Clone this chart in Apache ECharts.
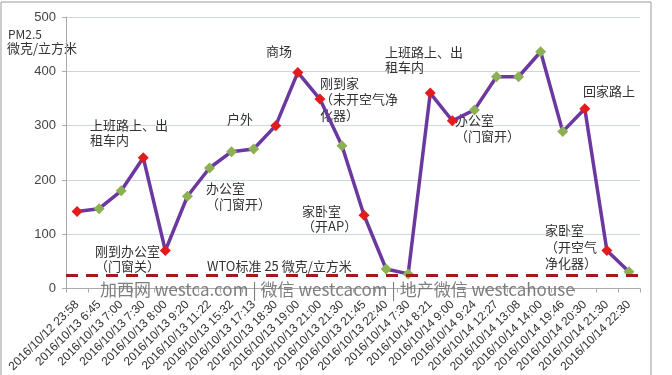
<!DOCTYPE html>
<html><head><meta charset="utf-8">
<script src="https://cdn.jsdelivr.net/npm/echarts@6/dist/echarts.min.js"></script>
<style>html,body{margin:0;padding:0;background:#fff}#c{width:672px;height:375px}</style>
</head><body><div id="c"></div>
<script>
var categories = ["2016/10/12 23:58","2016/10/13 6:45","2016/10/13 7:00","2016/10/13 7:30","2016/10/13 8:00","2016/10/13 9:20","2016/10/13 11:22","2016/10/13 15:32","2016/10/13 17:13","2016/10/13 18:30","2016/10/13 19:00","2016/10/13 21:00","2016/10/13 21:30","2016/10/13 21:45","2016/10/13 22:40","2016/10/14 7:30","2016/10/14 8:21","2016/10/14 9:00","2016/10/14 9:24","2016/10/14 12:27","2016/10/14 13:08","2016/10/14 14:00","2016/10/14 19:46","2016/10/14 20:30","2016/10/14 21:30","2016/10/14 22:30"];
var pm25 = [142,147,180,241,70,170,222,252,257,300,398,349,263,135,36,27,360,309,329,390,390,436,289,331,70,31];
var pointKind = ["r","g","g","r","r","g","g","g","g","r","r","r","g","r","g","g","r","r","g","g","g","g","g","r","r","g"];
var wtoStandard = 25;
var yTicks = [0,100,200,300,400,500];

var kindColor = {r:"#E41A1C", g:"#8BB153"};
var FONT = "'Noto Sans CJK SC', sans-serif";
var chart = echarts.init(document.getElementById('c'));

function txt(x, y, s, lh, extra){
  var o = {type:'text', left:x, top:y, z:1, style:{text:s, font:'13px '+FONT, fill:'#333', lineHeight:lh||15}};
  if (extra) for (var k in extra) o.style[k]=extra[k];
  return o;
}

chart.setOption({
  animation:false,
  backgroundColor:'#fff',
  grid:{left:66, right:32, top:17, bottom:86},
  xAxis:{type:'category', data:categories, boundaryGap:true,
    axisLine:{lineStyle:{color:'#aaa'}},
    axisTick:{show:true, length:4, lineStyle:{color:'#aaa'}},
    axisLabel:{interval:0, rotate:45, fontSize:12, color:'#333', margin:14, fontFamily:'Liberation Sans'}},
  yAxis:{type:'value', min:yTicks[0], max:yTicks[yTicks.length-1], interval:100,
    axisLine:{show:true, lineStyle:{color:'#aaa'}},
    axisTick:{show:true, length:4, lineStyle:{color:'#aaa'}},
    axisLabel:{fontSize:13, color:'#444', margin:10, fontFamily:'Liberation Sans'},
    splitLine:{lineStyle:{color:'#cdd8dd'}}},
  series:[{
    type:'line', z:3,
    data:pm25.map(function(v,i){return {value:v, itemStyle:{color:kindColor[pointKind[i]]}};}),
    symbol:'diamond', symbolSize:11,
    lineStyle:{color:'#6B38A0', width:3.5},
    markLine:{silent:true, symbol:'none', label:{show:false},
      lineStyle:{color:'#A01C1C', type:[12,8], width:3},
      data:[{yAxis:wtoStandard}]}
  }],
  graphic:[
    {type:'rect', shape:{x:1, y:2, width:650, height:390}, style:{fill:null, stroke:'#9a9a9a', lineWidth:1}, silent:true, z:0},
    {type:'text', left:8, top:28, style:{text:'PM2.5', font:'12px '+FONT, fill:'#333'}},
    {type:'text', left:7, top:42, style:{text:'微克/立方米', font:'13px '+FONT, fill:'#333'}},
    txt(90,118,'上班路上、出\n租车内'),
    txt(95,244,'刚到办公室\n（门窗关）'),
    txt(227,112,'户外'),
    txt(206,180,'办公室\n（门窗开）',16),
    txt(266,44,'商场'),
    txt(320,75,'刚到家\n（未开空气净\n化器）',16),
    txt(302,204,'家卧室\n（开AP）',15),
    txt(385,45,'上班路上、出\n租车内'),
    txt(455,112,'办公室\n（门窗开）',16),
    txt(583,84,'回家路上'),
    txt(545,222,'家卧室\n（开空气\n净化器）',16.5),
    txt(207,259,'WTO标准 25 微克/立方米'),
    {type:'text', left:100, top:281, z:5, style:{text:'加西网 westca.com | 微信 westcacom | 地产微信 westcahouse', font:'17px '+FONT, fill:'rgba(115,115,115,0.92)'}}
  ]
});
</script></body></html>
